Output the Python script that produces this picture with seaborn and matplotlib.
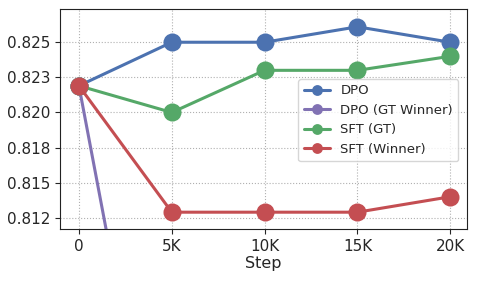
import numpy as np
import pandas as pd
import matplotlib
matplotlib.use("Agg")
import matplotlib.pyplot as plt
import seaborn as sns
from matplotlib.ticker import FuncFormatter, MultipleLocator

steps = [0, 5000, 10000, 15000, 20000]
dpo = [0.8219, 0.8250, 0.8250, 0.8261, 0.8250]
dpo_gt_winner = [0.8219, 0.7870, 0.7800, 0.7780, 0.7760]
sft_gt = [0.8219, 0.8200, 0.8230, 0.8230, 0.8240]
sft_winner = [0.8219, 0.8129, 0.8129, 0.8129, 0.8140]

series = {
    "DPO": dpo,
    "DPO (GT Winner)": dpo_gt_winner,
    "SFT (GT)": sft_gt,
    "SFT (Winner)": sft_winner,
}

df = pd.concat(
    [pd.DataFrame({"Step": steps, "value": v, "Method": k}) for k, v in series.items()],
    ignore_index=True,
)

sns.set_style("ticks")
plt.rcParams["font.family"] = ["DejaVu Sans"]

fig, ax = plt.subplots(figsize=(4.78, 2.84), dpi=100)
palette = [sns.color_palette("deep")[i] for i in (0, 4, 2, 3)]
sns.lineplot(data=df, x="Step", y="value", hue="Method", palette=palette,
             marker="o", markersize=13, markeredgewidth=0, linewidth=2.2,
             ax=ax)

ax.set_ylim(0.81171, 0.82736)
ax.set_xlim(-1020, 20900)
ax.yaxis.set_major_locator(MultipleLocator(0.0025))
ax.yaxis.set_major_formatter(FuncFormatter(lambda v, p: f"{v:.3f}"))
ax.set_xticks(steps)
ax.set_xticklabels(["0", "5K", "10K", "15K", "20K"])
ax.tick_params(labelsize=11)
ax.set_xlabel("Step", fontsize=11.5, labelpad=2)
ax.set_ylabel("")
ax.grid(True, linestyle=":", color="#b0b0b0", linewidth=0.8)
for s in ax.spines.values():
    s.set_color("#222222")

ax.legend(loc="center right", fontsize=9.5, bbox_to_anchor=(0.995, 0.495),
          markerscale=0.6)

fig.subplots_adjust(left=0.1255, right=0.977, top=0.968, bottom=0.194)
fig.savefig("out.png", dpi=100)
